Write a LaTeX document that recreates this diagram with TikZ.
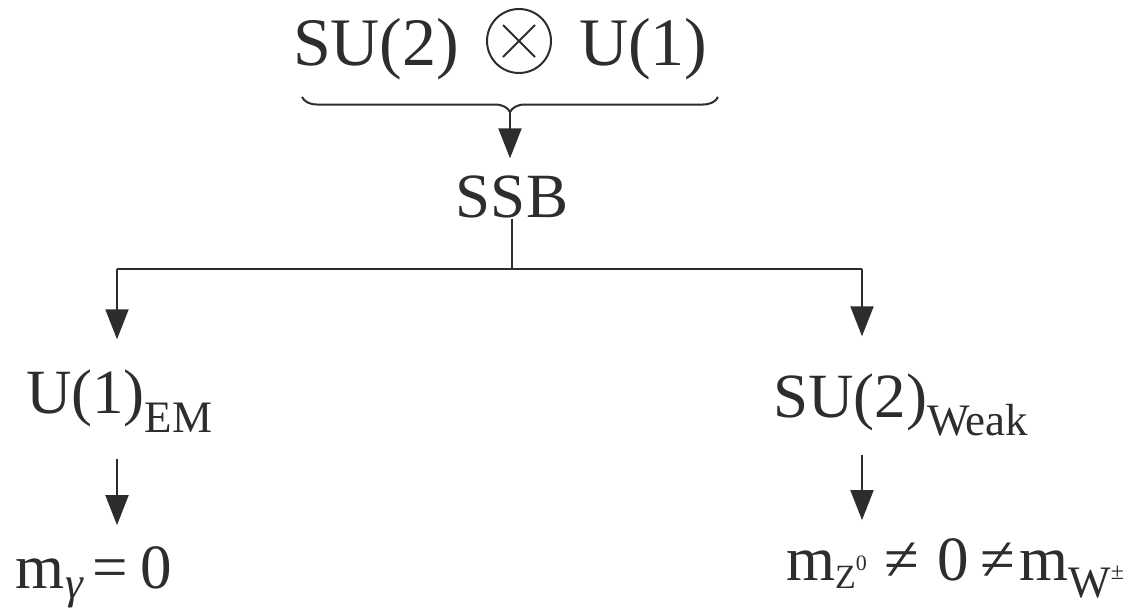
\documentclass[tikz,border=0pt]{standalone}
\usepackage{fontspec}
\setmainfont{Liberation Serif}
\usepackage{graphicx}
\usetikzlibrary{arrows.meta}
\usetikzlibrary{decorations.pathreplacing}
\usetikzlibrary{positioning}
\definecolor{ink}{RGB}{45,45,45}
\newcommand{\lowtext}[3]{\raisebox{-#1}{\fontsize{#2}{#2}\selectfont #3}}
\newcommand{\hightext}[3]{\raisebox{#1}{\fontsize{#2}{#2}\selectfont #3}}

\begin{document}
\begin{tikzpicture}[x=0.5pt, y=-0.5pt, line width=1pt, draw=ink,
  every node/.style={inner sep=0pt, text=ink, font=\fontsize{31.5}{36}\selectfont},
  big/.style={font=\fontsize{34}{40}\selectfont},
  arr/.style={-{Triangle[length=15pt, width=11.5pt]}}]
        \useasboundingbox (0,0) rectangle (1134,607);

        % Group and its brace
        \node[big, anchor=base west] (su) at (292,65) {SU(2)};
        \node[circle, draw, minimum size=32pt] (ot) at (519,41) {};
        \draw ([shift={(-16,-16)}]ot.center) -- ([shift={(16,16)}]ot.center);
        \draw ([shift={(-16,16)}]ot.center) -- ([shift={(16,-16)}]ot.center);
        \node[big, anchor=base west] (u) at (578,65) {U(1)};
        \draw[decorate, decoration={brace, mirror, amplitude=7.5pt}] (302,97) -- (718,97);
        \coordinate (tip) at (510,112);

        % Symmetry breaking
        \node[anchor=base] (ssb) at (512,217) {SSB};
        \draw[arr, shorten >=8pt] (tip) -- (tip |- ssb.north);

        % Split into the two branches
        \coordinate (fork) at (512,269);
        \coordinate (lt) at (117,269);
        \coordinate (rt) at (862,269);
        \draw (ssb.south) -- (fork);
        \draw (lt) -- (rt);

        \node[anchor=base west] (em) at (25,413) {U(1)\lowtext{9.5pt}{22.5}{EM}};
        \node[anchor=base west] (weak) at (772,417) {SU(2)\lowtext{9pt}{22.5}{Weak}};
        \draw[arr, shorten >=14.5pt] (lt) -- (lt |- em.north);
        \draw[arr, shorten >=18pt] (rt) -- (rt |- weak.north);

        % Masses
        \node[anchor=base west] (mg) at (15,588) {m\lowtext{5pt}{22.5}{\itshape γ}\hspace{5pt}=\hspace{6pt}0};
        \node[anchor=base west] (mz) at (785,580) {m\lowtext{4pt}{17}{Z}\hightext{5pt}{11}{0}\hspace{9pt}≠\hspace{9pt}0\hspace{6pt}≠\hspace{2pt}m\lowtext{8.5pt}{22.5}{W\hightext{9pt}{12}{±}}};
        \draw[arr, shorten <=13pt, shorten >=10pt] (lt |- em.south) -- (lt |- mg.north);
        \draw[arr, shorten <=9pt, shorten >=8.5pt] (rt |- weak.south) -- (rt |- mz.north);
      \end{tikzpicture}
\end{document}
